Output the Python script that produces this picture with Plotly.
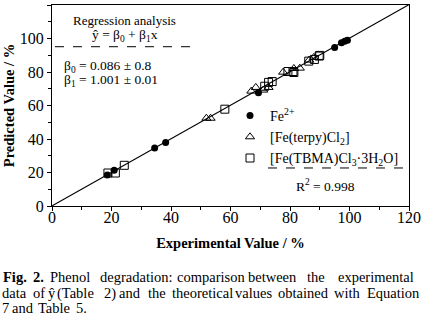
import plotly.graph_objects as go

# ---- data ----
fe2_x = [18.6, 20.9, 34.5, 38.2, 69.4, 95.0, 97.3, 98.4, 99.3]
fe2_y = [18.5, 21.3, 34.7, 37.9, 67.6, 94.7, 97.5, 98.3, 98.9]

terpy_x = [51.9, 53.3, 67.0, 68.5, 71.0, 72.8, 77.7, 81.3, 83.3, 86.4, 88.0]
terpy_y = [52.4, 52.4, 68.6, 70.8, 69.2, 70.8, 79.9, 82.1, 82.3, 87.1, 88.7]

tbma_x = [18.8, 21.3, 24.3, 58.1, 71.5, 72.8, 74.0, 79.3, 81.0, 81.3, 86.3, 88.2, 89.8, 90.0]
tbma_y = [19.7, 19.7, 24.3, 57.8, 71.5, 73.8, 74.3, 80.3, 80.3, 79.7, 86.5, 87.5, 89.5, 89.9]

beta0 = 0.086
beta1 = 1.001
fit_x = [0, 120]
fit_y = [beta0 + beta1 * v for v in fit_x]

x_ticks = [0, 20, 40, 60, 80, 100, 120]
y_ticks = [0, 20, 40, 60, 80, 100, 120]

caption_lines = [
    ["<b>Fig.</b>", "<b>2.</b>", "Phenol", "degradation:", "comparison", "between", "the", "experimental"],
    ["data", "of", "ŷ", "(Table", "2)", "and", "the", "theoretical", "values", "obtained", "with", "Equation"],
    ["7", "and", "Table", "5."],
]
# left pixel positions of caption words (layout)
caption_px = [
    [2, 32, 49, 99, 176, 247, 306, 337],
    [1, 32, 47, 56, 103, 118, 147, 171, 234, 277, 333, 366],
    [1, 11, 37, 75],
]
caption_py = [277, 293, 308]

FONT = "Liberation Serif, Times New Roman, Tinos, serif"
W, H = 421, 316
ML, MR, MT, MB = 52, 12, 5, 110
PW = W - ML - MR
PH = H - MT - MB

fig = go.Figure()
fig.add_trace(go.Scatter(x=fit_x, y=fit_y, mode="lines", line=dict(color="black", width=1.2),
                         showlegend=False, hoverinfo="skip"))
fig.add_trace(go.Scatter(x=fe2_x, y=fe2_y, mode="markers", name="Fe<sup>2+</sup>",
                         marker=dict(symbol="circle", size=7, color="black")))
fig.add_trace(go.Scatter(x=terpy_x, y=terpy_y, mode="markers", name="[Fe(terpy)Cl<sub>2</sub>]",
                         marker=dict(symbol="triangle-up-open", size=8, color="black", line=dict(width=1))))
fig.add_trace(go.Scatter(x=tbma_x, y=tbma_y, mode="markers", name="[Fe(TBMA)Cl<sub>3</sub>·3H<sub>2</sub>O]",
                         marker=dict(symbol="square-open", size=8, color="black", line=dict(width=1))))

axis_common = dict(
    range=[0, 120], showline=True, linecolor="black", linewidth=1.2, mirror=True,
    ticks="outside", ticklen=4, tickcolor="black", tickwidth=1,
    minor=dict(ticks="outside", ticklen=3, dtick=10, tickcolor="black", tickwidth=1),
    showgrid=False, zeroline=False,
    tickfont=dict(family=FONT, size=16, color="black"),
)
fig.update_xaxes(**axis_common, tickvals=x_ticks, ticklabelstandoff=-7,
                 title=dict(text="<b>Experimental Value / %</b>", font=dict(family=FONT, size=14.5, color="black"),
                            standoff=12))
fig.update_yaxes(**axis_common, tickvals=y_ticks,
                 title=dict(text="<b>Predicted Value / %</b>", font=dict(family=FONT, size=14.5, color="black"),
                            standoff=1))

shapes = [
    dict(type="line", xref="x", yref="y", x0=1, x1=48.7, y0=95.1, y1=95.1,
         line=dict(color="black", width=1, dash="dash")),
    dict(type="line", xref="x", yref="y", x0=72.6, x1=120, y0=22.7, y1=22.7,
         line=dict(color="black", width=1, dash="dash")),
]

tf = dict(family=FONT, size=13.5, color="black")
annotations = [
    dict(x=24.5, y=111, xref="x", yref="y", text="Regression analysis", showarrow=False,
         font=dict(family=FONT, size=13, color="black")),
    dict(x=24.5, y=101.5, xref="x", yref="y", text="ŷ = β<sub>0</sub> + β<sub>1</sub>x", showarrow=False, font=tf),
    dict(x=3.5, y=83.2, xref="x", yref="y", xanchor="left", text="β<sub>0</sub> = 0.086 ± 0.8",
         showarrow=False, font=tf),
    dict(x=3.5, y=74.8, xref="x", yref="y", xanchor="left", text="β<sub>1</sub> = 1.001 ± 0.01",
         showarrow=False, font=tf),
    dict(x=91.8, y=12.5, xref="x", yref="y", text="R<sup>2</sup> = 0.998", showarrow=False, font=tf),
]
for words, pxs, py in zip(caption_lines, caption_px, caption_py):
    for w, px in zip(words, pxs):
        annotations.append(dict(
            x=(px - ML) / PW, y=(H - MB - py) / PH, xref="paper", yref="paper",
            xanchor="left", yanchor="middle", text=w, showarrow=False, borderpad=0,
            font=dict(family=FONT, size=14.5, color="black")))

fig.update_layout(
    width=W, height=H, margin=dict(l=ML, r=MR, t=MT, b=MB, autoexpand=False),
    paper_bgcolor="white", plot_bgcolor="white",
    shapes=shapes, annotations=annotations,
    legend=dict(x=(230 - ML) / PW, y=(206 - 100) / PH, xanchor="left", yanchor="top",
                bgcolor="rgba(0,0,0,0)", font=dict(family=FONT, size=14, color="black"),
                itemwidth=30, tracegroupgap=0),
)

fig.write_html("out.html", config={"displayModeBar": False},
               post_script="document.body.style.margin='0';document.body.style.overflow='hidden';")
